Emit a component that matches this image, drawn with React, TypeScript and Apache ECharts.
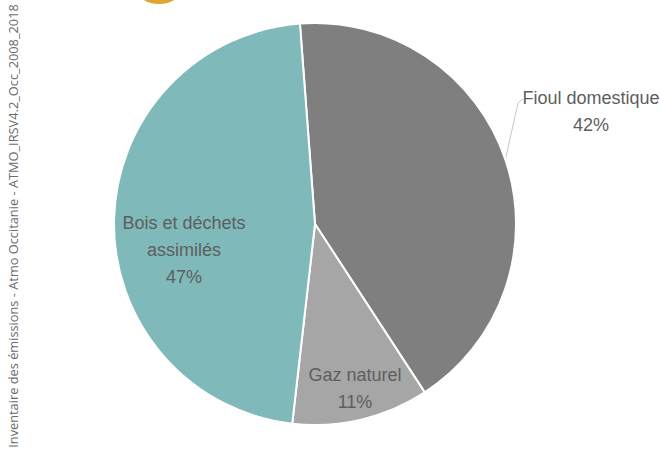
import React, { useEffect, useRef } from "react";
import * as echarts from "echarts";

const categories = ["Fioul domestique", "Gaz naturel", "Bois et déchets assimilés"];
const labelNames = ["Fioul domestique", "Gaz naturel", "Bois et déchets\nassimilés"];
const values = [42, 11, 47];
const colors = ["#7f7f7f", "#a6a6a6", "#80b9ba"];
const sourceText = "Inventaire des émissions - Atmo Occitanie - ATMO_IRSV4.2_Occ_2008_2018";

// label anchor placements (label layout only)
const labelSpots: [number, number][] = [
  [591, 111],
  [355, 388],
  [184, 250],
];

export default function App() {
  const ref = useRef<HTMLDivElement>(null);
  useEffect(() => {
    if (!ref.current) return;
    const chart = echarts.init(ref.current, null, { renderer: "svg" });
    const data = categories.map((name, i) => ({
      name,
      value: values[i],
      itemStyle: { color: colors[i] },
      label: { position: i === 0 ? "outside" : "inside" },
      labelLine: { show: i === 0 },
    }));
    chart.setOption({
      animation: false,
      backgroundColor: "#ffffff",
      graphic: [
        {
          type: "ellipse",
          shape: { cx: 159, cy: -9, rx: 21, ry: 13 },
          style: { fill: "#e3a52b" },
          silent: true,
        },
        {
          type: "text",
          x: 13,
          y: 226,
          rotation: Math.PI / 2,
          style: {
            text: sourceText,
            fill: "#6b6b6b",
            font: '12.8px "Open Sans"',
            textAlign: "center",
            textVerticalAlign: "middle",
          },
          silent: true,
        },
      ],
      series: [
        {
          type: "pie",
          center: [315, 224],
          radius: 201,
          startAngle: 94.3,
          clockwise: true,
          percentPrecision: 0,
          data,
          itemStyle: { borderColor: "#ffffff", borderWidth: 2 },
          label: {
            show: true,
            color: "#5e5e5e",
            fontSize: 18,
            fontFamily: "Liberation Sans",
            lineHeight: 27,
            align: "center",
            overflow: "none",
            width: 400,
            formatter: (p: any) => labelNames[p.dataIndex] + "\n" + p.percent + "%",
          },
          labelLine: {
            show: true,
            length: 10,
            length2: 10,
            lineStyle: { color: "#c8c8c8", width: 1 },
          },
          labelLayout: (params: any) => {
            const [x, y] = labelSpots[params.dataIndex];
            const out: any = { x, y, align: "center", verticalAlign: "middle" };
            if (params.dataIndex === 0 && params.labelLinePoints) {
              const p0 = params.labelLinePoints[0];
              out.labelLinePoints = [p0, [518, 103], [523, 99]];
            }
            return out;
          },
          emphasis: { disabled: true },
        },
      ],
    });
    return () => chart.dispose();
  }, []);
  return (
    <div
      ref={ref}
      style={{ position: "fixed", left: 0, top: 0, width: 660, height: 450 }}
    />
  );
}
